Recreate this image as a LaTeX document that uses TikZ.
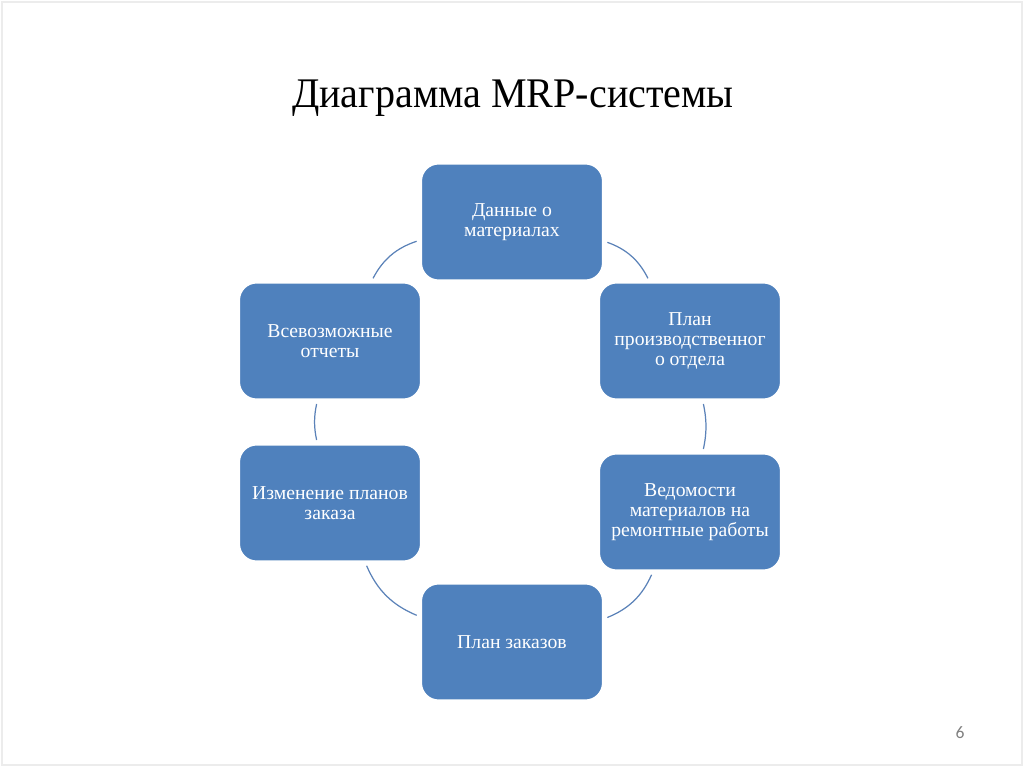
\documentclass[tikz,border=0pt]{standalone}
\usepackage{fontspec}
\setmainfont{Liberation Serif}
\newfontfamily\numfont{Carlito}
\usepackage{xcolor}
\definecolor{boxblue}{HTML}{4F81BD}
\definecolor{linkblue}{HTML}{5B82B8}

\begin{document}
\begin{tikzpicture}[
    blockbox/.style={rectangle, rounded corners=5pt, draw=white, line width=0.6pt,
        fill=boxblue, text=white, minimum width=1.82cm, minimum height=1.17cm,
        align=center, inner sep=1pt, font=\rmfamily\fontsize{5.6}{5.75}\selectfont},
    link/.style={draw=linkblue, line width=0.35pt, shorten >=1pt, shorten <=1pt}
]
    % Slide frame
    \useasboundingbox (0,0) rectangle (10.24,7.67);
    \draw[gray!15, line width=0.4pt] (0.02,0.02) rectangle (10.22,7.65);

    % Title
    \node[anchor=base] (title) at (5.13,6.60) {\scalebox{0.95}[1]{\rmfamily\fontsize{12}{14}\selectfont Диаграмма MRP-системы}};

    % Cycle blocks
    \node[blockbox] (data) at (5.12,5.45) {Данные о\\материалах};
    \node[blockbox] (prod) at (6.90,4.26) {План\\производственног\\о отдела};
    \node[blockbox] (lists) at (6.90,2.55) {Ведомости\\материалов на\\ремонтные работы};
    \node[blockbox] (orders) at (5.12,1.25) {План заказов};
    \node[blockbox] (change) at (3.30,2.64) {Изменение планов\\заказа};
    \node[blockbox] (reports) at (3.30,4.26) {Всевозможные\\отчеты};

    % Arcs between blocks
    \draw[link] (data) to[bend left=22] (prod);
    \draw[link] (prod) to[bend left=12] (lists);
    \draw[link] (lists) to[bend left=22] (orders);
    \draw[link] (orders) to[bend left=22] (change);
    \draw[link] (change) to[bend left=12] (reports);
    \draw[link] (reports) to[bend left=22] (data);

    % Page number
    \node (pagenum) at (9.60,0.34) {\numfont\fontsize{5}{6}\selectfont\color{gray}6};
\end{tikzpicture}
\end{document}
